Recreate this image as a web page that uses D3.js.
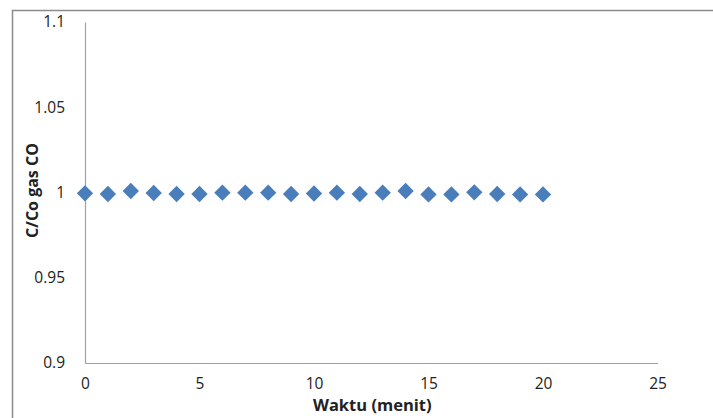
<!DOCTYPE html>
<html>
<head>
<meta charset="utf-8">
<script src="https://cdn.jsdelivr.net/npm/d3@7"></script>
<style>
  html, body { margin: 0; padding: 0; background: #fff; }
  svg { display: block; }
  text { font-family: "Open Sans", "Noto Sans", sans-serif; fill: #222; }
</style>
</head>
<body>
<div id="chart"></div>
<script>
// Measured time points (minutes) and normalised CO concentration C/Co
const waktu = [0, 1, 2, 3, 4, 5, 6, 7, 8, 9, 10, 11, 12, 13, 14, 15, 16, 17, 18, 19, 20];
const cCo = [0.9995, 0.9991, 1.0009, 0.9997, 0.9991, 0.9991, 0.9999, 0.9999, 0.9999, 0.9991, 0.9994,
             0.9999, 0.9991, 0.9999, 1.0009, 0.9989, 0.9989, 1.0001, 0.9991, 0.9989, 0.9989];
const xTicks = [0, 5, 10, 15, 20, 25];
const yTicks = [0.9, 0.95, 1, 1.05, 1.1];
const xTitle = "Waktu (menit)";
const yTitle = "C/Co gas CO";

const W = 713, H = 418;
const svg = d3.select("#chart").append("svg").attr("width", W).attr("height", H);

// chart frame
svg.append("rect")
  .attr("x", 12.5).attr("y", 10.5)
  .attr("width", W + 10).attr("height", H + 10)
  .attr("fill", "none").attr("stroke", "#8c8c8c").attr("stroke-width", 1.5);

const x = d3.scaleLinear().domain([0, 25]).range([85, 657.5]);
const y = d3.scaleLinear().domain([0.9, 1.1]).range([363, 22]);

// y axis
const yAxis = svg.append("g").attr("transform", `translate(${x(0)},0)`)
  .call(d3.axisLeft(y).tickValues(yTicks).tickSize(0).tickPadding(20)
    .tickFormat(d => d3.format("")(+d.toFixed(2))));
yAxis.select(".domain").attr("stroke", "#a0a0a0").attr("stroke-width", 1.2);
yAxis.selectAll("text").style("font-size", "15.5px").attr("fill", "#222");

// x axis
const xAxis = svg.append("g").attr("transform", `translate(0,${y(0.9)})`)
  .call(d3.axisBottom(x).tickValues(xTicks).tickSize(0).tickPadding(15));
xAxis.select(".domain").attr("stroke", "#a0a0a0").attr("stroke-width", 1.2);
xAxis.selectAll("text").style("font-size", "15.5px").attr("fill", "#222");

// axis titles
svg.append("text")
  .attr("x", (x(0) + x(25)) / 2 + 1).attr("y", 411)
  .attr("text-anchor", "middle")
  .style("font-size", "16.5px").style("font-weight", "bold")
  .text(xTitle);

svg.append("text")
  .attr("transform", `translate(38,${(y(0.9) + y(1.1)) / 2 - 2}) rotate(-90)`)
  .attr("text-anchor", "middle")
  .style("font-size", "16px").style("font-weight", "bold")
  .text(yTitle);

// diamond markers
const diamond = d3.symbol().type(d3.symbolDiamond2).size(170);
svg.append("g").selectAll("path")
  .data(waktu.map((t, i) => [t, cCo[i]]))
  .join("path")
  .attr("d", diamond)
  .attr("transform", d => `translate(${x(d[0])},${y(d[1])})`)
  .attr("fill", "#4a7ebb");
</script>
</body>
</html>
